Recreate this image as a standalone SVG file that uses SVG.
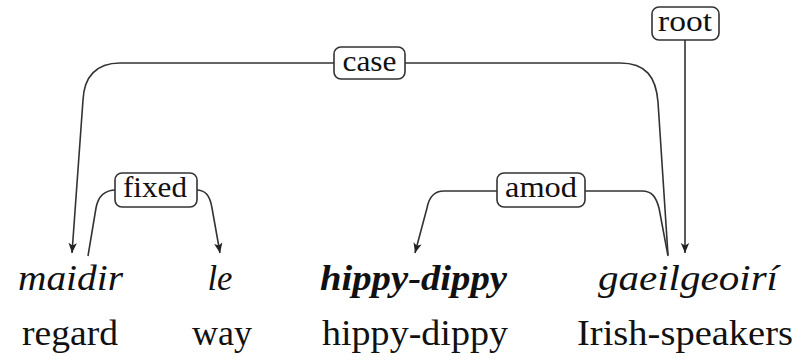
<svg xmlns="http://www.w3.org/2000/svg" width="802" height="360" viewBox="0 0 802 360">
  <defs>
    <marker id="arrow" markerUnits="userSpaceOnUse" markerWidth="14" markerHeight="14" viewBox="-12 -7 14 14" refX="0" refY="0" orient="auto">
      <path d="M0,0 L-10,-4.2 L-7.5,0 L-10,4.2 Z" fill="#222"/>
    </marker>
  </defs>
  <style>
    .edge { fill: none; stroke: #333; stroke-width: 1.6; }
    .arr { marker-end: url(#arrow); }
    .box { fill: #fff; stroke: #333; stroke-width: 1.6; }
    text { font-family: "Liberation Serif", Tinos, "Times New Roman", Times, "Nimbus Roman", "Nimbus Roman No9 L", FreeSerif, "Noto Serif", "DejaVu Serif", serif; fill: #111; text-anchor: middle; }
    .lbl { font-size: 30px; }
    .form { font-size: 36px; font-style: italic; }
    .gloss { font-size: 36px; }
    .head { font-weight: bold; }
  </style>
  <rect width="802" height="360" fill="#fff"/>

  <!-- dependency arcs -->
  <g id="edges">
    <!-- case: gaeilgeoirí -> maidir -->
    <path class="edge arr" d="M668 255 L658 102 C656 77 646 63 620 63 L334 63 L120 63 C96 63 84 77 83 100 L72 253"/>
    <!-- fixed: maidir -> le -->
    <path class="edge arr" d="M88 256 L96 208 C98 197 104 190 116 190 L196 190 C206 190 210 196 212 208 L220 253"/>
    <!-- amod: gaeilgeoirí -> hippy-dippy -->
    <path class="edge arr" d="M668 256 L659 208 C656 197 652 191 642 191 L444 191 C434 191 429 197 427 208 L415 253"/>
    <!-- root -->
    <path class="edge arr" d="M685 40 L685 253"/>
  </g>

  <!-- relation labels -->
  <g id="label-case">
    <rect class="box" x="334" y="47" width="71" height="32" rx="7"/>
    <text class="lbl" x="369.5" y="71" textLength="54" lengthAdjust="spacingAndGlyphs">case</text>
  </g>
  <g id="label-root">
    <rect class="box" x="652" y="7" width="67" height="33" rx="7"/>
    <text class="lbl" x="685" y="31" textLength="54" lengthAdjust="spacingAndGlyphs">root</text>
  </g>
  <g id="label-fixed">
    <rect class="box" x="115" y="173" width="82" height="34" rx="7"/>
    <text class="lbl" x="155" y="197" textLength="64" lengthAdjust="spacingAndGlyphs">fixed</text>
  </g>
  <g id="label-amod">
    <rect class="box" x="497" y="173" width="88" height="34" rx="7"/>
    <text class="lbl" x="541" y="197" textLength="72" lengthAdjust="spacingAndGlyphs">amod</text>
  </g>

  <!-- tokens: Irish form above, English gloss below -->
  <g id="token-maidir">
    <text class="form" x="70.5" y="290" textLength="105" lengthAdjust="spacingAndGlyphs">maidir</text>
    <text class="gloss" x="70" y="345" textLength="96" lengthAdjust="spacingAndGlyphs">regard</text>
  </g>
  <g id="token-le">
    <text class="form" x="220" y="290" textLength="25" lengthAdjust="spacingAndGlyphs">le</text>
    <text class="gloss" x="222" y="345" textLength="60" lengthAdjust="spacingAndGlyphs">way</text>
  </g>
  <g id="token-hippy-dippy">
    <text class="form head" x="413.5" y="290" textLength="187" lengthAdjust="spacingAndGlyphs">hippy-dippy</text>
    <text class="gloss" x="415" y="345" textLength="186" lengthAdjust="spacingAndGlyphs">hippy-dippy</text>
  </g>
  <g id="token-gaeilgeoiri">
    <text class="form" x="688" y="290" textLength="180" lengthAdjust="spacingAndGlyphs">gaeilgeoirí</text>
    <text class="gloss" x="685" y="345" textLength="216" lengthAdjust="spacingAndGlyphs">Irish-speakers</text>
  </g>
</svg>
